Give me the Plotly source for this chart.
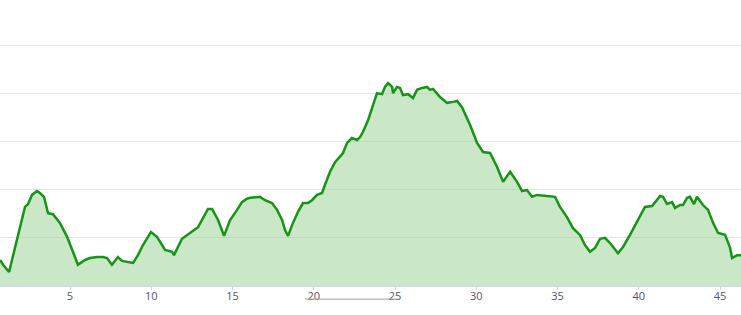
import plotly.graph_objects as go

km = [0.69, 0.88, 1.25, 1.62, 1.80, 2.05, 2.23, 2.42, 2.66, 2.97, 3.15, 3.40, 3.65, 3.95, 4.38, 4.82,
      5.18, 5.49, 5.92, 6.23, 6.66, 7.03, 7.28, 7.58, 7.95, 8.20, 8.88, 9.18, 9.49, 9.98, 10.35, 10.85,
      11.28, 11.40, 11.89, 12.08, 12.38, 12.88, 13.49, 13.74, 14.11, 14.48, 14.85, 15.28, 15.58, 15.89,
      16.08, 16.69, 17.00, 17.43, 17.74, 18.05, 18.23, 18.42, 18.72, 19.03, 19.34, 19.65, 19.89, 20.20,
      20.51, 20.69, 21.00, 21.31, 21.62, 21.80, 22.05, 22.35, 22.66, 22.85, 23.03, 23.34, 23.89, 24.20,
      24.38, 24.57, 24.82, 24.88, 25.12, 25.31, 25.49, 25.80, 26.11, 26.35, 26.66, 26.97, 27.15, 27.34,
      27.77, 28.20, 28.57, 28.82, 29.12, 29.62, 30.05, 30.42, 30.85, 31.28, 31.65, 32.08, 32.51, 32.82,
      33.12, 33.43, 33.74, 34.42, 34.85, 35.15, 35.58, 35.95, 36.38, 36.69, 37.00, 37.31, 37.62, 37.92,
      38.23, 38.72, 39.03, 39.46, 39.95, 40.38, 40.82, 41.12, 41.31, 41.49, 41.74, 42.05, 42.23, 42.54,
      42.72, 42.97, 43.15, 43.40, 43.58, 43.95, 44.26, 44.57, 44.88, 45.31, 45.62, 45.74, 46.05, 46.29]

elev = [54, 44, 29, 81, 100, 141, 164, 170, 189, 197, 193, 185, 151, 149, 131, 102,
        71, 44, 54, 58, 60, 60, 58, 44, 60, 52, 48, 64, 85, 112, 102, 75,
        71, 64, 98, 102, 110, 122, 160, 160, 137, 104, 137, 158, 174, 181,
        183, 185, 178, 172, 158, 137, 116, 104, 131, 154, 172, 172, 178, 189,
        193, 210, 237, 257, 270, 276, 297, 307, 303, 309, 320, 344, 400, 398,
        413, 421, 413, 400, 413, 411, 396, 398, 390, 407, 411, 413, 407, 409,
        392, 380, 382, 384, 371, 334, 297, 278, 276, 247, 216, 237, 216, 197,
        199, 185, 189, 187, 185, 164, 143, 120, 106, 85, 71, 79, 98, 100,
        89, 68, 81, 106, 137, 164, 166, 178, 187, 185, 170, 174, 162, 168,
        168, 183, 185, 170, 185, 168, 158, 131, 110, 106, 79, 58, 64, 64]

tick_vals = [5, 10, 15, 20, 25, 30, 35, 40, 45]
tick_text = ["5", "10", "15", "20", "25", "30", "35", "40", "45"]

fig = go.Figure()
fig.add_trace(go.Scatter(
    x=km, y=elev, mode="lines",
    line=dict(color="#159415", width=2.5),
    fill="tozeroy", fillcolor="rgba(150,210,145,0.5)",
    hoverinfo="skip", showlegend=False,
))

fig.add_shape(type="line", xref="x", yref="paper", x0=19.46, x1=25.18, y0=-0.046, y1=-0.046,
              line=dict(color="#a0a0a0", width=1))

fig.update_layout(
    width=741, height=315,
    margin=dict(l=0, r=0, t=0, b=29),
    paper_bgcolor="white", plot_bgcolor="white",
    xaxis=dict(range=[0.692, 46.29], tickvals=tick_vals, ticktext=tick_text,
               showgrid=False, zeroline=False, showline=True, linecolor="#ccd6eb", linewidth=1,
               ticks="outside", ticklen=3, tickcolor="#ccd6eb", ticklabelstandoff=-3,
               tickfont=dict(family="Open Sans", size=11, color="#4d5566")),
    yaxis=dict(range=[0, 593.4], tickvals=[100, 200, 300, 400, 500], showticklabels=False,
               showgrid=True, gridcolor="#e6e6e6", gridwidth=1, zeroline=False, showline=False),
)

fig.write_html("out.html")
